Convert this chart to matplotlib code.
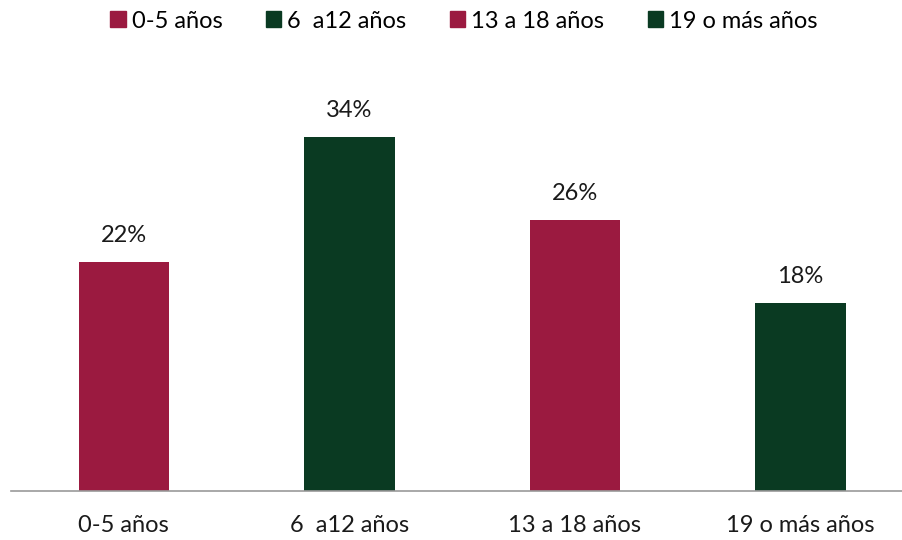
import matplotlib.pyplot as plt
from matplotlib.patches import Patch

plt.rcParams['font.family'] = ['Lato', 'DejaVu Sans']

categorias = ['0-5 años', '6  a12 años', '13 a 18 años', '19 o más años']
porcentajes = [22, 34, 26, 18]
colores = ['#9B1A40', '#0A3A22', '#9B1A40', '#0A3A22']

fig = plt.figure(figsize=(9.03, 5.4), dpi=100)
ax = fig.add_axes([11/903, 49/540, 892/903, 416.8/540])

x = range(len(categorias))
bars = ax.bar(x, porcentajes, width=0.4, color=colores)

for xi, v in zip(x, porcentajes):
    ax.annotate(f'{v}%', (xi, v), xytext=(0, 11.5), textcoords='offset points',
                ha='center', va='bottom', fontsize=17, color='#1a1a1a')

ax.set_xlim(-0.5, -0.5 + 892/225.6)
ax.set_ylim(0, 40)
ax.set_xticks(list(x))
ax.set_xticklabels(categorias, fontsize=17, color='#1a1a1a')
ax.tick_params(axis='x', length=0, pad=17)
ax.set_yticks([])
for s in ['top', 'right', 'left']:
    ax.spines[s].set_visible(False)
ax.spines['bottom'].set_color('#9a9a9a')
ax.spines['bottom'].set_linewidth(1.2)

handles = [Patch(color=c, label=l) for c, l in zip(colores, categorias)]
fig.legend(handles=handles, loc='center', bbox_to_anchor=(464/903, 1 - 21/540),
           ncol=4, frameon=False, fontsize=17, handlelength=0.65, handleheight=0.65,
           handletextpad=0.25, columnspacing=1.85)

fig.savefig('out.png', dpi=100)
